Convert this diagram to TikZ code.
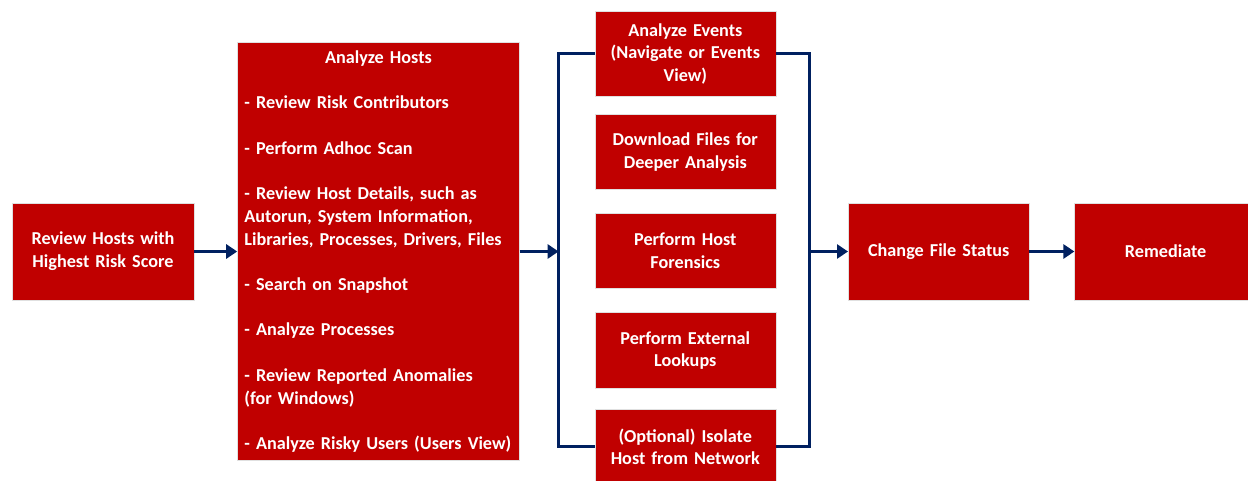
\documentclass[tikz,border=0pt]{standalone}
\usepackage{fontspec}
\setmainfont{Carlito}
\usetikzlibrary{arrows.meta, positioning, calc}
\definecolor{boxred}{HTML}{C00000}
\definecolor{navy}{HTML}{002060}
\tikzset{
    %Define style for boxes
    boks/.style={
           rectangle,
           fill=boxred,
           draw=black!12, thin,
           text=white,
           font=\fontsize{18.2}{22.7}\selectfont\bfseries,
           text width=#1,
           minimum width=#1,
           inner xsep=0pt,
           align=center},
    boks/.default=181pt,
    % Define arrow style
    pil/.style={
           -{Triangle[length=11pt, width=14pt]},
           draw=navy,
           line width=3.5pt},
    % Define bracket style
    linje/.style={
           draw=navy,
           line width=3pt}
}
\begin{document}
\begin{tikzpicture}
	\useasboundingbox (0,0) rectangle (1248pt,-480pt);
	%
	% noeuds
	%
	\node[boks=182pt, minimum height=97pt] (review) at (103pt,-251.5pt) {Review Hosts with\\Highest Risk Score};
	\node[boks=282pt, minimum height=418pt, inner xsep=7pt, text width=268pt, align=left, right=43pt of review] (hosts) {%
		\makebox[\linewidth][c]{Analyze Hosts}\\[22.7pt]
		- Review Risk Contributors\\[22.7pt]
		- Perform Adhoc Scan\\[22.7pt]
		- Review Host Details, such as\\
		Autorun, System Information,\\
		Libraries, Processes, Drivers, Files\\[22.7pt]
		- Search on Snapshot\\[22.7pt]
		- Analyze Processes\\[22.7pt]
		- Review Reported Anomalies\\
		(for Windows)\\[22.7pt]
		- Analyze Risky Users (Users View)};
	\node[boks, minimum height=75pt, right=75pt of hosts, yshift=1pt] (forensics) {Perform Host\\Forensics};
	\node[boks, minimum height=75pt, above=23pt of forensics] (download) {Download Files for\\Deeper Analysis};
	\node[boks, minimum height=85pt, above=18pt of download] (events) {Analyze Events\\(Navigate or Events\\View)};
	\node[boks, minimum height=76pt, below=24pt of forensics] (lookups) {Perform External\\Lookups};
	\node[boks, minimum height=76pt, below=20pt of lookups] (isolate) {(Optional) Isolate\\Host from Network};
	\node[boks, minimum height=97pt, right=72pt of forensics, yshift=-1pt] (status) {Change File Status};
	\node[boks=182pt, minimum height=97pt, right=45pt of status] (remediate) {Remediate};
	%
	% Liens
	%
	\coordinate (lbar) at ($(events.west)+(-36pt,0)$);
	\coordinate (rbar) at ($(events.east)+(33pt,0)$);
	\draw[linje] (events.west) -- (lbar) |- (isolate.west);
	\draw[linje] (events.east) -- (rbar) |- (isolate.east);
	\draw[pil] (review) -- (hosts);
	\draw[pil] (hosts) -- (hosts -| lbar);
	\draw[pil] (rbar |- status) -- (status);
	\draw[pil] (status) -- (remediate);
\end{tikzpicture}
\end{document}
